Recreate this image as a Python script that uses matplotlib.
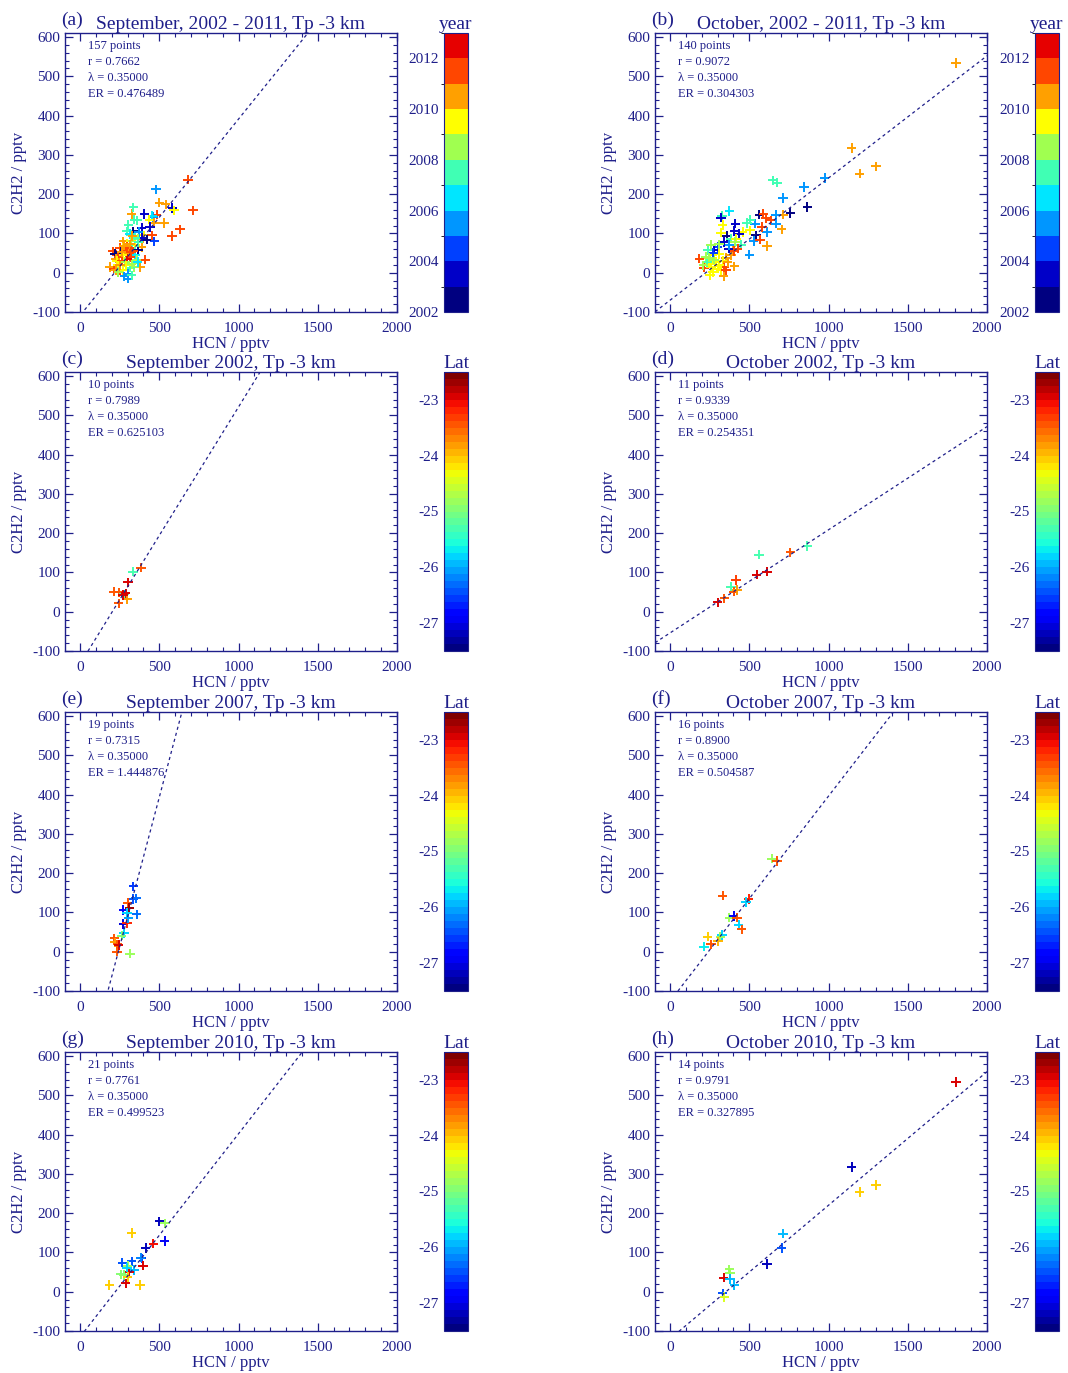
import numpy as np
import matplotlib
matplotlib.use('Agg')
import matplotlib.pyplot as plt
from matplotlib.colors import ListedColormap, BoundaryNorm, Normalize
from matplotlib.ticker import MultipleLocator
import matplotlib.cm as cm

plt.rcParams['font.family'] = ['Liberation Serif', 'DejaVu Serif']
plt.rcParams['axes.unicode_minus'] = False

navy = '#1f1f8a'

# ---- data ----
# (a) September, 2002 - 2011  (hcn, c2h2, year)
a_hcn = [680, 712, 480, 501, 541, 583, 592, 531, 632, 579, 484, 463, 457, 406, 326, 337, 343, 362, 438, 467,
         442, 389, 337, 305, 295, 316, 373, 364, 406, 453, 400, 469, 421, 389, 347, 322, 274, 295, 347, 389,
         368, 326, 280, 253, 206, 221, 257, 291, 305, 337, 347, 316, 295, 269, 242, 225, 232, 263, 284, 411,
         379, 343, 316, 189, 215, 253, 238, 290, 274, 305, 280, 305, 326, 225, 242, 263, 299, 316, 368, 330,
         278, 322, 358, 326, 364, 253]
a_c2h2 = [237, 159, 212, 178, 174, 165, 159, 127, 110, 93, 148, 142, 145, 149, 149, 166, 135, 133, 135, 127,
          116, 114, 105, 121, 105, 99, 104, 87, 95, 95, 87, 80, 84, 88, 88, 80, 80, 74, 70, 65,
          57, 64, 61, 64, 54, 48, 53, 59, 48, 54, 44, 40, 36, 44, 40, 36, 30, 30, 27, 33,
          14, 14, 13, 14, 10, 6, 19, 19, 6, -3, -9, -15, -7, 6, 2, 53, 66, 72, 78, 93,
          69, 53, 33, 21, 27, 19]
a_year = [2011, 2011, 2005, 2010, 2010, 2003, 2009, 2010, 2011, 2011, 2011, 2005, 2006, 2003, 2010, 2007, 2007, 2007, 2009, 2010,
          2003, 2003, 2002, 2007, 2007, 2006, 2005, 2008, 2009, 2011, 2010, 2004, 2002, 2003, 2007, 2008, 2010, 2009, 2009, 2010,
          2002, 2007, 2011, 2011, 2011, 2002, 2002, 2011, 2010, 2011, 2006, 2011, 2012, 2009, 2011, 2010, 2009, 2011, 2008, 2011,
          2010, 2008, 2007, 2010, 2011, 2011, 2009, 2009, 2009, 2005, 2005, 2005, 2007, 2010, 2008, 2010, 2011, 2010, 2007, 2010,
          2010, 2011, 2008, 2008, 2006, 2010]

# (b) October, 2002 - 2011
b_hcn = [1804, 1145, 1299, 1197, 648, 676, 845, 976, 866, 712, 760, 712, 669, 564, 589, 606, 634, 669, 613, 705,
         579, 536, 486, 507, 543, 528, 568, 613, 501, 374, 327, 321, 332, 412, 321, 406, 458, 437, 505, 359,
         384, 416, 410, 448, 427, 395, 369, 338, 300, 279, 310, 258, 237, 184, 226, 268, 310, 353, 384, 406,
         331, 289, 247, 215, 258, 300, 268, 253, 338, 406, 342, 279, 232, 310, 363, 211, 374, 274, 247, 321,
         353]
b_c2h2 = [534, 317, 271, 252, 235, 229, 218, 241, 167, 190, 152, 148, 148, 148, 150, 138, 133, 125, 104, 110,
          116, 125, 126, 135, 95, 81, 84, 68, 46, 157, 144, 140, 121, 125, 102, 106, 104, 99, 108, 93,
          87, 87, 78, 70, 61, 57, 61, 78, 65, 57, 72, 70, 57, 36, 40, 44, 48, 38, 44, 55,
          31, 27, 23, 13, 14, 10, 2, -7, -9, 16, 14, 33, 27, 19, 27, 19, 70, 50, 38, 6,
          6]
b_year = [2010, 2010, 2010, 2010, 2007, 2007, 2005, 2005, 2002, 2005, 2002, 2010, 2005, 2002, 2011, 2011, 2011, 2005, 2005, 2010,
          2011, 2005, 2007, 2007, 2002, 2005, 2011, 2010, 2005, 2006, 2007, 2003, 2009, 2003, 2009, 2003, 2009, 2003, 2009, 2002,
          2007, 2009, 2008, 2007, 2011, 2010, 2003, 2003, 2004, 2003, 2008, 2008, 2007, 2011, 2008, 2009, 2009, 2010, 2010, 2011,
          2009, 2009, 2009, 2011, 2009, 2009, 2009, 2009, 2010, 2010, 2011, 2008, 2007, 2009, 2010, 2008, 2005, 2004, 2008, 2009,
          2011]

# (c) September 2002  (hcn, c2h2, lat)
c_hcn = [212, 244, 244, 277, 288, 298, 302, 333, 385, 271]
c_c2h2 = [51, 49, 21, 44, 47, 32, 75, 102, 112, 42]
c_lat = [-23.5, -23.5, -23.5, -25.3, -23.0, -23.8, -23.0, -25.3, -23.5, -23.0]

# (d) October 2002
d_hcn = [300, 342, 384, 401, 416, 422, 547, 560, 612, 760, 866]
d_c2h2 = [24, 34, 64, 51, 81, 55, 94, 145, 102, 151, 167]
d_lat = [-23.0, -23.5, -25.3, -23.5, -23.3, -23.8, -23.0, -25.3, -23.0, -23.5, -25.3]

# (e) September 2007
e_hcn = [337, 333, 354, 358, 274, 301, 312, 295, 274, 295, 278, 263, 217, 221, 236, 232, 316, 244, 305]
e_c2h2 = [166, 134, 136, 95, 106, 124, 112, 98, 70, 73, 47, 41, 34, 24, 19, 0, -5, 17, 85]
e_lat = [-26.6, -26.5, -26.3, -26.3, -26.8, -23.4, -22.7, -25.8, -27.1, -23.2, -25.8, -24.9, -23.5, -23.8, -23.4, -23.5, -24.8, -23.0, -26.1]

# (f) October 2007
f_hcn = [644, 676, 332, 496, 479, 374, 401, 422, 433, 452, 327, 317, 237, 215, 258, 302]
f_c2h2 = [237, 231, 143, 134, 126, 87, 91, 87, 68, 57, 43, 37, 38, 13, 19, 26]
f_lat = [-24.8, -23.4, -23.4, -23.2, -25.8, -24.8, -26.9, -23.4, -25.8, -23.5, -25.8, -24.8, -24.1, -25.7, -23.4, -24.0]

# (g) September 2010
g_hcn = [501, 537, 533, 326, 463, 413, 389, 396, 267, 326, 343, 301, 312, 278, 301, 288, 185, 379, 383, 295, 259]
g_c2h2 = [179, 174, 129, 149, 122, 111, 85, 66, 74, 77, 55, 66, 51, 43, 37, 21, 17, 17, 87, 61, 44]
g_lat = [-27.2, -24.8, -26.9, -24.1, -23.1, -27.2, -26.6, -23.0, -26.4, -26.5, -25.9, -24.8, -23.0, -24.9, -24.1, -23.0, -24.1, -24.1, -26.2, -25.8, -25.0]

# (h) October 2010
h_hcn = [1804, 1145, 1299, 1197, 712, 705, 612, 374, 378, 338, 378, 405, 332, 342]
h_c2h2 = [534, 317, 272, 254, 148, 111, 70, 57, 47, 36, 32, 17, -4, -13]
h_lat = [-23.0, -27.2, -24.1, -24.1, -26.0, -26.5, -27.2, -24.8, -24.8, -23.0, -26.0, -26.0, -26.5, -24.4]

# ratio lines (slope, intercept) and stats text per panel
line_slope = [0.50, 0.311, 0.654, 0.2625, 1.52, 0.522, 0.517, 0.340]
line_icept = [-109, -70, -133, -54, -367, -126, -115, -120]
n_points = [157, 140, 10, 11, 19, 16, 21, 14]
r_vals = ['0.7662', '0.9072', '0.7989', '0.9339', '0.7315', '0.8900', '0.7761', '0.9791']
er_vals = ['0.476489', '0.304303', '0.625103', '0.254351', '1.444876', '0.504587', '0.499523', '0.327895']
letters = ['(a)', '(b)', '(c)', '(d)', '(e)', '(f)', '(g)', '(h)']
titles = ['September, 2002 - 2011, Tp -3 km', 'October, 2002 - 2011, Tp -3 km',
          'September 2002, Tp -3 km', 'October 2002, Tp -3 km',
          'September 2007, Tp -3 km', 'October 2007, Tp -3 km',
          'September 2010, Tp -3 km', 'October 2010, Tp -3 km']

panels = [(a_hcn, a_c2h2, a_year), (b_hcn, b_c2h2, b_year),
          (c_hcn, c_c2h2, c_lat), (d_hcn, d_c2h2, d_lat),
          (e_hcn, e_c2h2, e_lat), (f_hcn, f_c2h2, f_lat),
          (g_hcn, g_c2h2, g_lat), (h_hcn, h_c2h2, h_lat)]

# colour scales
year_colors = ['#000080', '#0000c8', '#0040ff', '#0096ff', '#00e6ff', '#40ffb4',
               '#a0ff50', '#ffff00', '#ffa000', '#ff4600', '#e60000']
year_cmap = ListedColormap(year_colors)
year_norm = BoundaryNorm(np.arange(2002, 2014), year_cmap.N)
lat_cmap = plt.get_cmap('jet', 40)
lat_norm = Normalize(-27.5, -22.5)

W, H = 1068, 1373
fig = plt.figure(figsize=(W / 100, H / 100), dpi=100)

col_x = [65, 655]
cbar_x = [444, 1035]
row_top = [33, 372, 712, 1052]
ax_w, ax_h = 332, 279

for i, (hcn, c2h2, cval) in enumerate(panels):
    row, col = i // 2, i % 2
    ax = fig.add_axes([col_x[col] / W, 1 - (row_top[row] + ax_h) / H, ax_w / W, ax_h / H])
    cax = fig.add_axes([cbar_x[col] / W, 1 - (row_top[row] + ax_h) / H, 24 / W, ax_h / H])

    if i < 2:
        cmap, norm = year_cmap, year_norm
    else:
        cmap, norm = lat_cmap, lat_norm

    ax.scatter(hcn, c2h2, c=cval, cmap=cmap, norm=norm, marker='+', s=46, linewidths=1.4, zorder=3)

    xs = np.array([-95, 2000])
    ax.plot(xs, line_slope[i] * xs + line_icept[i], color=navy, lw=0.9,
            linestyle=(0, (2.5, 2.5)), zorder=4)

    ax.set_xlim(-95, 2000)
    ax.set_ylim(-100, 610)
    ax.xaxis.set_major_locator(MultipleLocator(500))
    ax.xaxis.set_minor_locator(MultipleLocator(100))
    ax.yaxis.set_major_locator(MultipleLocator(100))
    ax.yaxis.set_minor_locator(MultipleLocator(20))
    ax.tick_params(which='both', direction='in', top=True, right=True, color=navy,
                   labelcolor=navy, labelsize=11)
    ax.tick_params(axis='x', which='major', pad=7)
    ax.tick_params(which='major', length=6, width=0.9)
    ax.tick_params(which='minor', length=3, width=0.8)
    for sp in ax.spines.values():
        sp.set_color(navy)
        sp.set_linewidth(1.0)

    ax.set_xlabel('HCN / pptv', color=navy, fontsize=12, labelpad=1)
    ax.set_ylabel('C2H2 / pptv', color=navy, fontsize=12, labelpad=4)
    ax.set_title(titles[i], color=navy, fontsize=14, pad=3)
    ax.text(-0.012, 1.015, letters[i], transform=ax.transAxes, color=navy, fontsize=14,
            ha='left', va='bottom')

    txt = '%d points\nr = %s\n\u03bb = 0.35000\nER = %s' % (n_points[i], r_vals[i], er_vals[i])
    ax.text(0.07, 0.975, txt, transform=ax.transAxes, color=navy, fontsize=9,
            ha='left', va='top', linespacing=1.45)

    # colour bar
    sm = cm.ScalarMappable(norm=norm, cmap=cmap)
    cb = fig.colorbar(sm, cax=cax)
    if i < 2:
        cb.set_ticks([2002, 2004, 2006, 2008, 2010, 2012])
        cax.set_title('year', color=navy, fontsize=14, pad=3)
    else:
        cb.set_ticks([-27, -26, -25, -24, -23])
        cax.set_title('Lat', color=navy, fontsize=14, pad=3)
    cax.yaxis.set_ticks_position('left')
    cax.tick_params(length=0, pad=4, labelsize=11, labelcolor=navy)
    cb.outline.set_edgecolor(navy)
    cb.outline.set_linewidth(0.8)

fig.savefig('out.png', dpi=100)
